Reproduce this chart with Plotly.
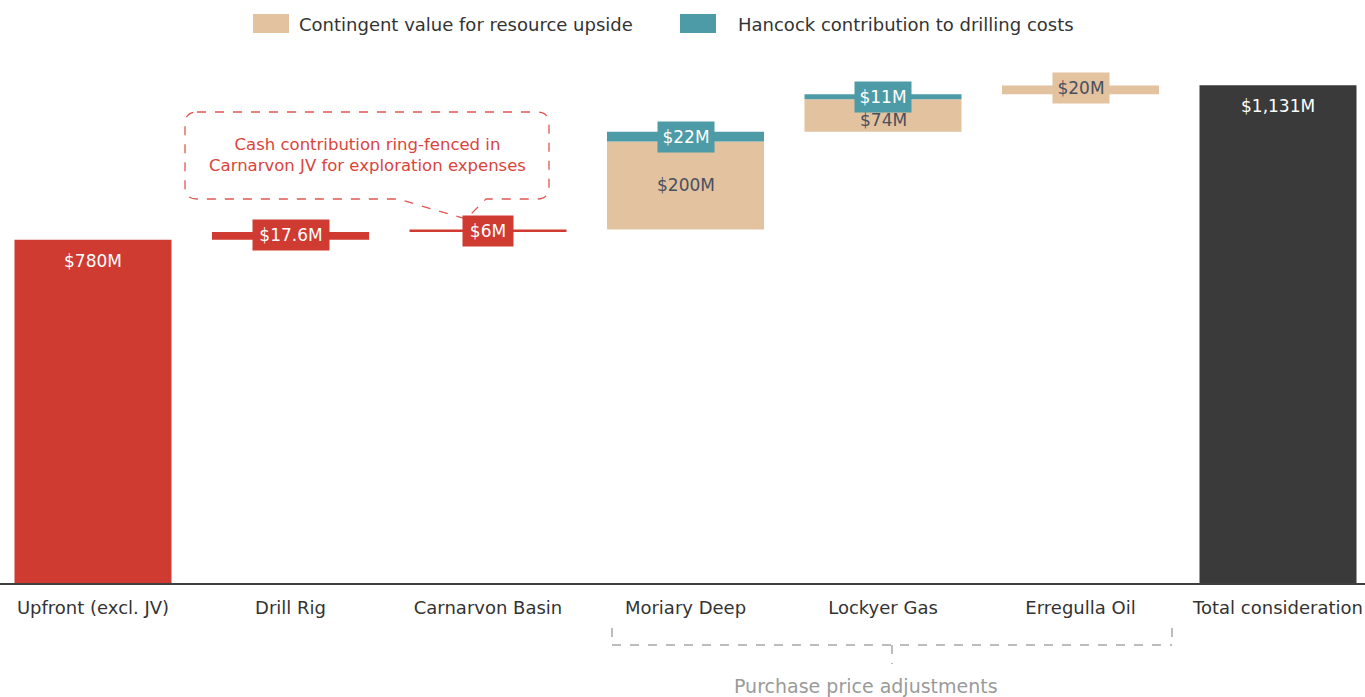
import plotly.graph_objects as go

# ---------------- data ----------------
categories = ["Upfront (excl. JV)", "Drill Rig", "Carnarvon Basin", "Moriary Deep",
              "Lockyer Gas", "Erregulla Oil", "Total consideration"]
cash_values = [780, 17.6, 6]                 # red: upfront, drill rig, Carnarvon
contingent_values = [200, 74, 20]            # tan: Moriary, Lockyer, Erregulla
hancock_values = [22, 11]                    # teal: Moriary, Lockyer
total_value = 1131
cash_labels = ["$780M", "$17.6M", "$6M"]
contingent_labels = ["$200M", "$74M", "$20M"]
hancock_labels = ["$22M", "$11M"]
total_label = "$1,131M"
legend_names = ["Contingent value for resource upside", "Hancock contribution to drilling costs"]
callout_text = "Cash contribution ring-fenced in<br>Carnarvon JV for exploration expenses"
bracket_text = "Purchase price adjustments"

# ---------------- styles ----------------
RED = "#CF3A31"
TAN = "#E2C29F"
TEAL = "#4D9BA6"
DARK = "#3A3A3A"
FONT = "DejaVu Sans"
W, H = 1365, 697
ML, MR, MT, MB = 0, 0, 40, 114
PLOT_H = H - MT - MB
PX_PER_UNIT = 0.44
YMAX = PLOT_H / PX_PER_UNIT
BAR_W = 0.795

# ---------------- running bases ----------------
cash_bases = [0, cash_values[0], cash_values[0] + cash_values[1]]
run = sum(cash_values)
contingent_bases, hancock_bases = [], []
for i, v in enumerate(contingent_values):
    contingent_bases.append(run)
    run += v
    if i < len(hancock_values):
        hancock_bases.append(run)
        run += hancock_values[i]

cash_x = categories[0:3]
cont_x = categories[3:6]
hanc_x = categories[3:5]

fig = go.Figure()
fig.add_bar(x=cash_x, y=cash_values, base=cash_bases, marker_color=RED,
            width=BAR_W, name="Cash", showlegend=False, marker_line_width=0)
fig.add_bar(x=cont_x, y=contingent_values, base=contingent_bases, marker_color=TAN,
            width=BAR_W, name=legend_names[0], showlegend=False, marker_line_width=0)
fig.add_bar(x=hanc_x, y=hancock_values, base=hancock_bases, marker_color=TEAL,
            width=BAR_W, name=legend_names[1], showlegend=False, marker_line_width=0)
fig.add_bar(x=[categories[6]], y=[total_value], base=[0], marker_color=DARK,
            width=BAR_W, name="Total", showlegend=False, marker_line_width=0)

ann = []
def lab(x, y, text, color, bg=None, w=None, yshift=0, yanchor="middle"):
    d = dict(x=x, y=y, text=text, showarrow=False, xref="x", yref="y", xanchor="center",
             font=dict(family=FONT, size=17, color=color), yshift=yshift, yanchor=yanchor)
    if bg:
        d.update(bgcolor=bg, borderpad=0, width=w, height=30)
    ann.append(d)

# cash labels
lab(cash_x[0], cash_bases[0] + cash_values[0], cash_labels[0], "white", yshift=-9, yanchor="top")
lab(cash_x[1], cash_bases[1] + cash_values[1] / 2, cash_labels[1], "white", bg=RED, w=76, yshift=1)
lab(cash_x[2], cash_bases[2] + cash_values[2] / 2, cash_labels[2], "white", bg=RED, w=50)
# contingent
lab(cont_x[0], contingent_bases[0] + contingent_values[0] / 2, contingent_labels[0], "#4A4F5E")
lab(cont_x[1], contingent_bases[1] + contingent_values[1], contingent_labels[1], "#4A4F5E",
    yshift=-9, yanchor="top")
lab(cont_x[2], contingent_bases[2] + contingent_values[2] / 2, contingent_labels[2], "#4A4F5E",
    bg=TAN, w=56, yshift=2)
# hancock
lab(hanc_x[0], hancock_bases[0] + hancock_values[0] / 2, hancock_labels[0], "white", bg=TEAL, w=56)
lab(hanc_x[1], hancock_bases[1] + hancock_values[1] / 2, hancock_labels[1], "white", bg=TEAL, w=56)
# total
lab(categories[6], total_value, total_label, "white", yshift=-9, yanchor="top")

# helpers: pixel -> paper
def pxx(p):
    return (p - ML) / (W - ML - MR)
def pxy(p):
    return (H - MB - p) / PLOT_H

shapes = []
# legend swatches
legend_items = [(253, 297, TAN, legend_names[0]), (680, 736, TEAL, legend_names[1])]
for x0, xt, col, name in legend_items:
    shapes.append(dict(type="rect", xref="paper", yref="paper", x0=pxx(x0), x1=pxx(x0 + 36),
                       y0=pxy(33), y1=pxy(14), fillcolor=col, line_width=0))
    ann.append(dict(xref="paper", yref="paper", x=pxx(xt), y=pxy(24), text=name,
                    showarrow=False, xanchor="left", yanchor="middle",
                    font=dict(family=FONT, size=18, color="#333333")))

# callout bubble
r = 12
L, R, T, B = 185, 549, 112, 199
pts = [
    f"M {pxx(L + r)},{pxy(T)}", f"L {pxx(R - r)},{pxy(T)}",
    f"Q {pxx(R)},{pxy(T)} {pxx(R)},{pxy(T + r)}", f"L {pxx(R)},{pxy(B - r)}",
    f"Q {pxx(R)},{pxy(B)} {pxx(R - r)},{pxy(B)}", f"L {pxx(486)},{pxy(B)}",
    f"L {pxx(466)},{pxy(219)}", f"L {pxx(398)},{pxy(B)}",
    f"L {pxx(L + r)},{pxy(B)}", f"Q {pxx(L)},{pxy(B)} {pxx(L)},{pxy(B - r)}",
    f"L {pxx(L)},{pxy(T + r)}", f"Q {pxx(L)},{pxy(T)} {pxx(L + r)},{pxy(T)}",
]
shapes.append(dict(type="path", xref="paper", yref="paper", path=" ".join(pts),
                   line=dict(color="#E0574F", width=1.3, dash="dash"), layer="below"))
ann.append(dict(xref="paper", yref="paper", x=pxx(367), y=pxy(155), text=callout_text,
                showarrow=False, align="center", xanchor="center", yanchor="middle",
                font=dict(family=FONT, size=16.5, color="#D9453C")))

# bracket for purchase price adjustments
GRAY = "#A6A6A6"
bracket = [(612, 628, 612, 645), (612, 645, 1172, 645), (1172, 628, 1172, 645), (892, 645, 892, 664)]
for x0, y0, x1, y1 in bracket:
    shapes.append(dict(type="line", xref="paper", yref="paper", x0=pxx(x0), y0=pxy(y0),
                       x1=pxx(x1), y1=pxy(y1), line=dict(color=GRAY, width=1.5, dash="dash")))
ann.append(dict(xref="paper", yref="paper", x=pxx(866), y=pxy(686), text=bracket_text,
                showarrow=False, xanchor="center", yanchor="middle",
                font=dict(family=FONT, size=19, color="#9A9A9A")))

x_lo = -93 / 197.5
fig.update_layout(
    width=W, height=H, margin=dict(l=ML, r=MR, t=MT, b=MB),
    plot_bgcolor="white", paper_bgcolor="white", barmode="overlay",
    showlegend=False, annotations=ann, shapes=shapes,
    font=dict(family=FONT, size=18, color="#333333"),
    xaxis=dict(range=[x_lo, x_lo + W / 197.5], showline=True, linecolor="#3F3F3F", linewidth=2,
               showgrid=False, zeroline=False, ticks="", ticklabelstandoff=7,
               tickfont=dict(family=FONT, size=18, color="#333333"), fixedrange=True),
    yaxis=dict(range=[0, YMAX], visible=False, showgrid=False, zeroline=False, fixedrange=True),
)
fig.write_html("out.html", config={"displayModeBar": False},
               post_script="document.body.style.margin='0';document.body.style.overflow='hidden';")
